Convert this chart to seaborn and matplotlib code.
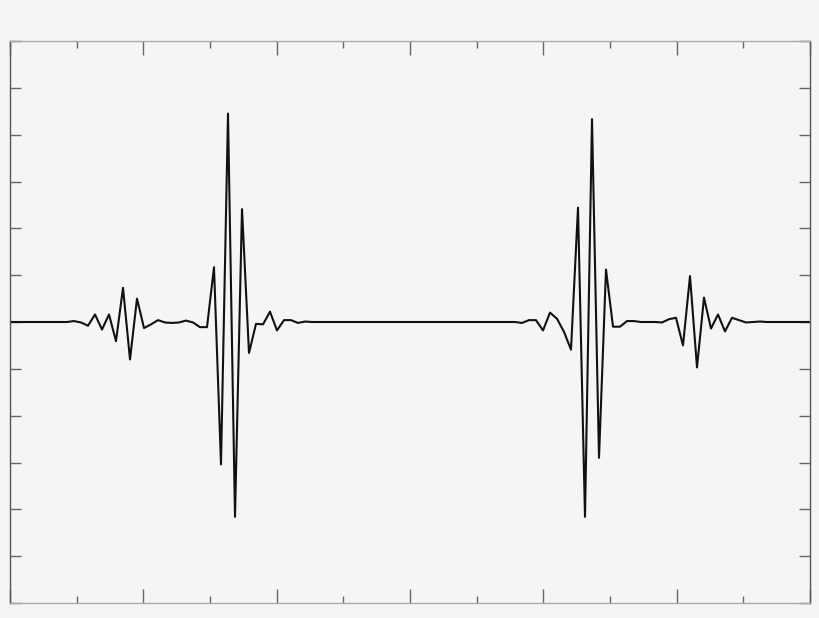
import numpy as np
import pandas as pd
import matplotlib
matplotlib.use('Agg')
import matplotlib.pyplot as plt
import seaborn as sns

# sample index (centre of record = 0)
t = np.arange(-57, 58)

# amplitude, one value per sample
amp = ([0.0] * 9
       + [0.02, -0.01, -0.08, 0.16, -0.16, 0.16, -0.41, 0.73, -0.80, 0.50,
          -0.13, -0.05, 0.04, -0.01, -0.02, -0.01, 0.03, -0.01, -0.11, -0.11,
          1.17, -3.04, 4.45, -4.16, 2.41, -0.66, -0.04, -0.05, 0.22, -0.18,
          0.04, 0.04, -0.02, 0.01]
       + [0.0] * 30
       + [-0.02, 0.04, 0.04, -0.18, 0.20, 0.07, -0.21, -0.59, 2.44, -4.16,
          4.33, -2.90, 1.12, -0.10, -0.10, 0.02, 0.02, 0.0, 0.0, 0.0,
          -0.01, 0.06, 0.09, -0.50, 0.98, -0.97, 0.52, -0.14, 0.16, -0.20,
          0.09, 0.04, -0.01, 0.0, 0.01]
       + [0.0] * 7)

df = pd.DataFrame({'t': t, 'amp': amp})

bg = '#f5f5f5'
sns.set_style('white')
fig = plt.figure(figsize=(8.2, 6.18), dpi=100, facecolor=bg)
ax = fig.add_axes([10/820, 15/618, 800/820, 562/618])
ax.set_facecolor(bg)

sns.lineplot(data=df, x='t', y='amp', color='#111111', linewidth=1.5, ax=ax)

xmin, xmax = -400/7, 400/7
ax.set_xlim(xmin, xmax)
ax.set_ylim(-6, 6)
ax.set_xticks(np.linspace(xmin, xmax, 7))
ax.set_xticks(np.linspace(xmin, xmax, 13), minor=True)
ax.set_yticks(np.arange(-6, 7))
ax.set_xlabel('')
ax.set_ylabel('')

ax.tick_params(axis='both', which='both', direction='in',
               top=True, bottom=True, left=True, right=True,
               labelbottom=False, labelleft=False, color='#666666', width=1)
ax.tick_params(axis='x', which='major', length=10)
ax.tick_params(axis='x', which='minor', length=5)
ax.tick_params(axis='y', which='major', length=8)

for side in ['left', 'right']:
    ax.spines[side].set_color('#555555')
for side in ['top', 'bottom']:
    ax.spines[side].set_color('#aaaaaa')
for s in ax.spines.values():
    s.set_linewidth(1)

fig.savefig('out.png', dpi=100, facecolor=bg)
